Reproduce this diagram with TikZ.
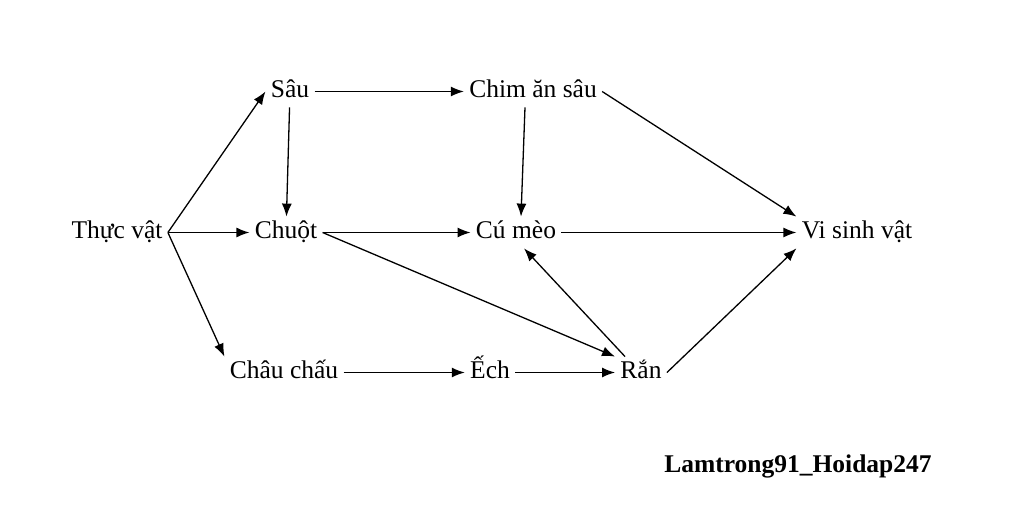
\documentclass[tikz,border=0pt]{standalone}
\usepackage{fontspec}
\setmainfont{Liberation Serif}
\usetikzlibrary{arrows.meta}

\begin{document}
\begin{tikzpicture}[x=0.5pt,y=-0.5pt,
	loai/.style={anchor=base,inner xsep=2.5pt,inner ysep=2pt,text height=9pt,text depth=2.5pt,font=\fontsize{12.75}{15}\selectfont},
	mui/.style={-{Latex[length=6.5pt,width=5pt]},line width=0.65pt}]
	\useasboundingbox (0,0) rectangle (1024,513);
	% hang tren
	\node[loai] (sau) at (290,98) {Sâu};
	\node[loai] (chim) at (533,98) {Chim ăn sâu};
	% hang giua
	\node[loai] (tv) at (117,239) {Thực vật};
	\node[loai] (chuot) at (286,239) {Chuột};
	\node[loai] (cumeo) at (516,239) {Cú mèo};
	\node[loai] (vsv) at (857,239) {Vi sinh vật};
	% hang duoi
	\node[loai] (chauchau) at (284,379) {Châu chấu};
	\node[loai] (ech) at (490,379) {Ếch};
	\node[loai] (ran) at (641,379) {Rắn};

	\draw[mui] (tv.east) -- (sau.west);
	\draw[mui] (tv) -- (chuot);
	\draw[mui] (tv.east) -- (chauchau.north west);
	\draw[mui] (sau) -- (chim);
	\draw[mui] (sau) -- (chuot);
	\draw[mui] ([xshift=-4pt]chim.south) -- ([xshift=2.5pt]cumeo.north);
	\draw[mui] (chim.east) -- (vsv.north west);
	\draw[mui] (chuot) -- (cumeo);
	\draw[mui] (chuot.east) -- (ran.north west);
	\draw[mui] (cumeo) -- (vsv);
	\draw[mui] (chauchau) -- (ech);
	\draw[mui] (ech) -- (ran);
	\draw[mui] ([xshift=5pt]ran.north west) -- ([xshift=4pt]cumeo.south);
	\draw[mui] (ran.east) -- (vsv.south west);

	\node[anchor=base,font=\fontsize{12.75}{15}\selectfont\bfseries] (ten) at (798,473) {Lamtrong91\_Hoidap247};
\end{tikzpicture}
\end{document}
